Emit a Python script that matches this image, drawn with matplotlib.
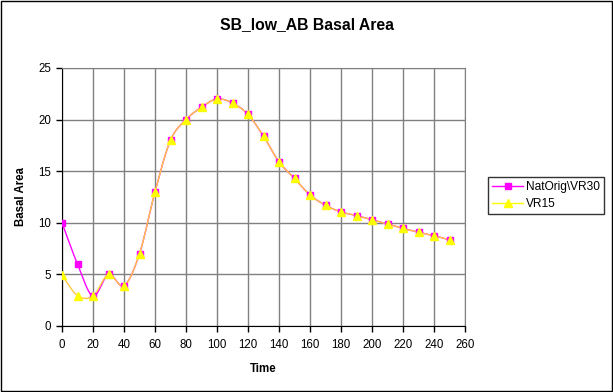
import numpy as np
import matplotlib
matplotlib.use("Agg")
import matplotlib.pyplot as plt
from matplotlib.patches import Rectangle
from matplotlib.lines import Line2D

plt.rcParams['font.family'] = ['Liberation Sans', 'DejaVu Sans']

time = [0, 10, 20, 30, 40, 50, 60, 70, 80, 90, 100, 110, 120, 130, 140, 150,
        160, 170, 180, 190, 200, 210, 220, 230, 240, 250]
natorig = [10.0, 6.0, 2.9, 5.0, 3.9, 7.0, 13.0, 18.0, 20.0, 21.2, 22.0, 21.6, 20.5,
           18.4, 15.9, 14.3, 12.7, 11.7, 11.05, 10.7, 10.3, 9.9, 9.45, 9.1, 8.75, 8.35]
vr15 = [4.9, 2.95, 2.9, 5.0, 3.9, 7.0, 13.0, 18.0, 20.0, 21.2, 22.0, 21.6, 20.5,
        18.4, 15.9, 14.3, 12.7, 11.7, 11.05, 10.7, 10.3, 9.9, 9.45, 9.1, 8.75, 8.35]
series_names = ["NatOrig\\VR30", "VR15"]


def smooth(x, y, n=30, t=0.5):
    # Catmull-Rom style curve through the points (like Excel's smoothed line)
    x = np.asarray(x, float); y = np.asarray(y, float)
    px, py = [], []
    for i in range(len(x) - 1):
        p0 = i - 1 if i > 0 else i
        p3 = i + 2 if i + 2 < len(x) else i + 1
        m1x = t * (x[i + 1] - x[p0]); m1y = t * (y[i + 1] - y[p0])
        m2x = t * (x[p3] - x[i]); m2y = t * (y[p3] - y[i])
        if p0 == i:
            m1x *= 2; m1y *= 2
        if p3 == i + 1:
            m2x *= 2; m2y *= 2
        s = np.linspace(0, 1, n, endpoint=(i == len(x) - 2))
        h00 = 2 * s**3 - 3 * s**2 + 1
        h10 = s**3 - 2 * s**2 + s
        h01 = -2 * s**3 + 3 * s**2
        h11 = s**3 - s**2
        px.extend(h00 * x[i] + h10 * m1x + h01 * x[i + 1] + h11 * m2x)
        py.extend(h00 * y[i] + h10 * m1y + h01 * y[i + 1] + h11 * m2y)
    return np.array(px), np.array(py)


fig = plt.figure(figsize=(6.13, 3.92), dpi=100)
fig.patches.append(Rectangle((0.0015, 0.002), 0.997, 0.996, transform=fig.transFigure,
                             fill=False, edgecolor='black', linewidth=1.0))
ax = fig.add_axes([62 / 613, 1 - 326 / 392, (465 - 62) / 613, (326 - 68) / 392])

sx, sy = smooth(time, natorig)
ax.plot(sx, sy, color='#FF00FF', lw=1.0, zorder=3)
ax.plot(time, natorig, ls='none', marker='s', ms=4.5, color='#FF00FF',
        markeredgecolor='#FF00FF', zorder=4)
sx2, sy2 = smooth(time, vr15)
ax.plot(sx2, sy2, color='#FFC844', lw=1.0, zorder=3)
ax.plot(time, vr15, ls='none', marker='^', ms=5.5, color='#FFFF00',
        markeredgecolor='#FFFF00', zorder=5)

ax.set_xlim(0, 260)
ax.set_ylim(0, 25)
ax.set_xticks(range(0, 261, 20))
ax.set_yticks(range(0, 26, 5))
ax.grid(True, color='#808080', lw=1.0)
ax.set_axisbelow(True)
ax.tick_params(labelsize=8.3, length=4, width=1, direction='out', color='black')
ax.tick_params(axis='x', pad=5)
ax.tick_params(axis='y', pad=4)
for side in ['top', 'right']:
    ax.spines[side].set_color('#808080')
for side in ['left', 'bottom']:
    ax.spines[side].set_color('black')
ax.set_xlabel('Time', fontsize=8.3, fontweight='bold', labelpad=9)
ax.set_ylabel('Basal Area', fontsize=8.3, fontweight='bold', labelpad=8)
fig.text(0.5, 1 - 25 / 392, 'SB_low_AB Basal Area', ha='center', va='center',
         fontsize=11.3, fontweight='bold')

handles = [Line2D([], [], color='#FF00FF', marker='s', ms=4.5, lw=1.0),
           Line2D([], [], color='#FFFF00', marker='^', ms=5.5, lw=1.0)]
leg = fig.legend(handles, series_names, loc='upper left',
                 bbox_to_anchor=(488 / 613, 1 - 177 / 392), fontsize=8.6,
                 frameon=True, fancybox=False, handlelength=2.6, handletextpad=0.2,
                 borderpad=0.35, labelspacing=0.4, borderaxespad=0)
leg.get_frame().set_edgecolor('black')
leg.get_frame().set_linewidth(1.0)

fig.savefig('out.png', dpi=100)
